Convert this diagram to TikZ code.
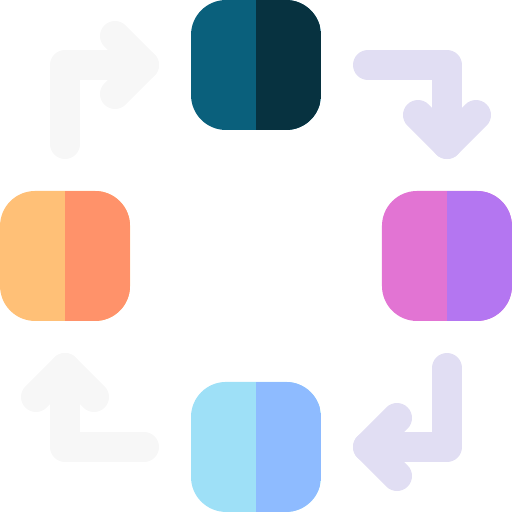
\documentclass[tikz,border=0pt]{standalone}
\usetikzlibrary{positioning}
\definecolor{tealcolor}{RGB}{10,96,124}
\definecolor{navycolor}{RGB}{7,50,64}
\definecolor{peachcolor}{RGB}{255,192,119}
\definecolor{salmoncolor}{RGB}{255,146,106}
\definecolor{orchidcolor}{RGB}{226,116,211}
\definecolor{violetcolor}{RGB}{180,118,241}
\definecolor{skycolor}{RGB}{158,224,247}
\definecolor{bluecolor}{RGB}{142,187,255}
\definecolor{greycolor}{RGB}{247,247,247}
\definecolor{lilaccolor}{RGB}{225,222,243}

\begin{document}
\begin{tikzpicture}[%
    x=0.02cm, y=-0.02cm,            % one unit is one pixel, y grows downwards
    node distance=3.82cm and 3.82cm, % tiles sit on a diamond
    ]
\tikzset{
  tile/.style={on grid, minimum size=2.6cm, inner sep=0pt, rounded corners=0.7cm},
  halves/.style 2 args={tile, fill=#1,
    path picture={\fill[#2, sharp corners] (path picture bounding box.north) rectangle (path picture bounding box.south east);}},
  turn/.style={line width=0.6cm, line cap=round, line join=round},
}
\useasboundingbox (0,0) rectangle (512,512);

% tiles
\node [halves={tealcolor}{navycolor}] (t0) at (256,65) {};
\node [halves={orchidcolor}{violetcolor}, below right=of t0] (t1) {};
\node [halves={skycolor}{bluecolor}, below left=of t1] (t2) {};
\node [halves={peachcolor}{salmoncolor}, above left=of t2] (t3) {};

% arrow points
\coordinate (a0) at (65,144);
\coordinate (a1) at (65,65);
\coordinate (a2) at (144,65);
\coordinate (a3) at (115,36);
\coordinate (a4) at (115,94);

\coordinate (b0) at (368,65);
\coordinate (b1) at (447,65);
\coordinate (b2) at (447,144);
\coordinate (b3) at (418,115);
\coordinate (b4) at (476,115);

\coordinate (c0) at (447,368);
\coordinate (c1) at (447,447);
\coordinate (c2) at (368,447);
\coordinate (c3) at (397,418);
\coordinate (c4) at (397,476);

\coordinate (d0) at (144,447);
\coordinate (d1) at (65,447);
\coordinate (d2) at (65,368);
\coordinate (d3) at (36,397);
\coordinate (d4) at (94,397);

% arrows
\draw [turn, greycolor] (a0) -- (a1) -- (a2);
\draw [turn, greycolor] (a3) -- (a2) -- (a4);
\draw [turn, lilaccolor] (b0) -- (b1) -- (b2);
\draw [turn, lilaccolor] (b3) -- (b2) -- (b4);
\draw [turn, lilaccolor] (c0) -- (c1) -- (c2);
\draw [turn, lilaccolor] (c3) -- (c2) -- (c4);
\draw [turn, greycolor] (d0) -- (d1) -- (d2);
\draw [turn, greycolor] (d3) -- (d2) -- (d4);

\end{tikzpicture}
\end{document}
